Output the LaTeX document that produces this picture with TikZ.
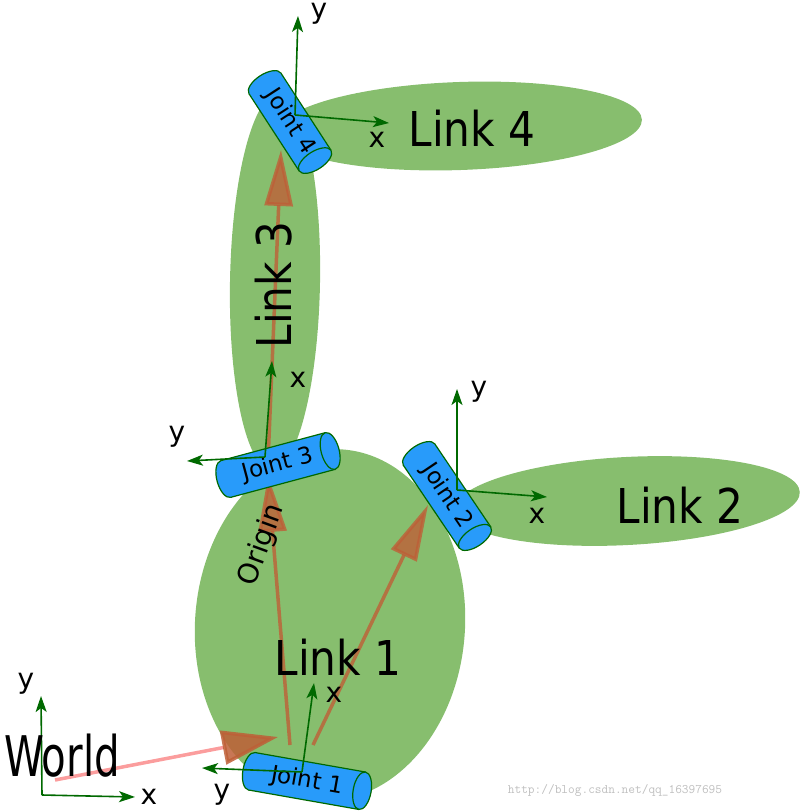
\documentclass[tikz,border=0pt]{standalone}
\usepackage{fontspec}
\setmainfont{DejaVu Sans}
\usetikzlibrary{arrows.meta}
\definecolor{lk}{RGB}{135,190,110}
\definecolor{jb}{RGB}{40,155,250}
\definecolor{fr}{RGB}{0,105,0}
\definecolor{org}{RGB}{190,95,55}
\definecolor{pk}{RGB}{250,140,140}
\begin{document}
\begin{tikzpicture}[x=1pt,y=-1pt,
  link/.style={fill=lk},
  axis/.style={draw=fr,line width=1.6pt,-{Stealth[length=16pt,width=11pt,inset=4pt]}},
  alab/.style={font=\fontsize{28}{28}\selectfont,inner sep=0pt},
  vec/.style={draw=org,opacity=0.8,line width=3.5pt,-{Triangle[length=56pt,width=28pt]}},
  lname/.style={font=\fontsize{48}{48}\selectfont,inner sep=0pt},
  jt/.style={font=\fontsize{23}{23}\selectfont,inner sep=0pt}]
\useasboundingbox (0,0) rectangle (800,811);
% links
\fill[lk,rotate around={-4:(330,625)}] (330,625) ellipse [x radius=135,y radius=176];
\fill[lk,rotate around={3:(627,501)}] (627,501) ellipse [x radius=173,y radius=44];
\fill[lk,rotate around={-1:(275,282)}] (275,282) ellipse [x radius=45,y radius=188];
\fill[lk,rotate around={2:(460,126)}] (460,126) ellipse [x radius=182,y radius=44];
% orange vectors
\coordinate (o1) at (290,745); \coordinate (o2) at (313,745);
\coordinate (j3) at (268,476); \coordinate (j2) at (428,505);
\coordinate (j3b) at (268,462); \coordinate (j4) at (281,150);
\coordinate (w0) at (55,780); \coordinate (w1) at (278,737);
\draw[vec] (o1) -- (j3);
\draw[vec] (o2) -- (j2);
\draw[vec] (j3b) -- (j4);
\draw[draw=pk,line width=3.5pt,-{Triangle[length=56pt,width=34pt,fill=org,color=org]},opacity=0.85] (w0) -- (w1);
% joints
\newcommand{\jointcyl}[5]{% x y angle length label
 \begin{scope}[shift={(#1,#2)},rotate=-#3]
  \fill[jb,draw=fr,line width=1.2pt] (-#4/2,0) ellipse [x radius=9,y radius=19];
  \fill[jb] (-#4/2,-19) rectangle (#4/2,19);
  \draw[fr,line width=1.2pt] (-#4/2,-19) -- (#4/2,-19) (-#4/2,19) -- (#4/2,19);
  \fill[jb,draw=fr,line width=1.2pt] (#4/2,0) ellipse [x radius=9,y radius=19];
 \end{scope}
 \node[jt,rotate=-#3] at (#1,#2) {#5};}
\jointcyl{307}{781}{10}{112}{Joint 1}
\jointcyl{447}{496}{56}{100}{Joint 2}
\jointcyl{278}{465}{-15}{108}{Joint 3}
\jointcyl{290}{122}{57}{92}{Joint 4}
% frames
\coordinate (wo) at (42,795); \coordinate (wx) at (135,797); \coordinate (wy) at (41,696);
\draw[axis] (wo) -- (wx); \draw[axis] (wo) -- (wy);
\node[alab] at (149,797) {x}; \node[alab] at (26,684) {y};
\coordinate (f1) at (302,772); \coordinate (f1x) at (314,683); \coordinate (f1y) at (202,768);
\draw[axis] (f1) -- (f1x); \draw[axis] (f1) -- (f1y);
\node[alab] at (334,695) {x}; \node[alab] at (222,795) {y};
\coordinate (f3) at (265,457); \coordinate (f3x) at (272,361); \coordinate (f3y) at (187,461);
\draw[axis] (f3) -- (f3x); \draw[axis] (f3) -- (f3y);
\node[alab] at (298,380) {x}; \node[alab] at (177,437) {y};
\coordinate (f2) at (457,490); \coordinate (f2x) at (547,497); \coordinate (f2y) at (457,389);
\draw[axis] (f2) -- (f2x); \draw[axis] (f2) -- (f2y);
\node[alab] at (537,516) {x}; \node[alab] at (479,392) {y};
\coordinate (f4) at (295,115); \coordinate (f4x) at (389,123); \coordinate (f4y) at (298,16);
\draw[axis] (f4) -- (f4x); \draw[axis] (f4) -- (f4y);
\node[alab] at (319,14) {y}; \node[alab] at (377,140) {x};
% names
\node[lname] at (338,657) {\scalebox{0.88}[1]{Link 1}};
\node[lname] at (680,505) {\scalebox{0.88}[1]{Link 2}};
\node[lname,rotate=90] at (274,285) {\scalebox{0.88}[1]{Link 3}};
\node[lname] at (472,128) {\scalebox{0.88}[1]{Link 4}};
\node[inner sep=0pt,font=\fontsize{56}{56}\selectfont] at (62,756) {\scalebox{0.72}[1]{World}};
\node[alab,rotate=70] at (262,545) {Origin};
\node[inner sep=0pt,text=black!25,font=\fontsize{13}{13}\ttfamily] at (615,790) {http://blog.csdn.net/qq\_16397695};
\end{tikzpicture}
\end{document}
